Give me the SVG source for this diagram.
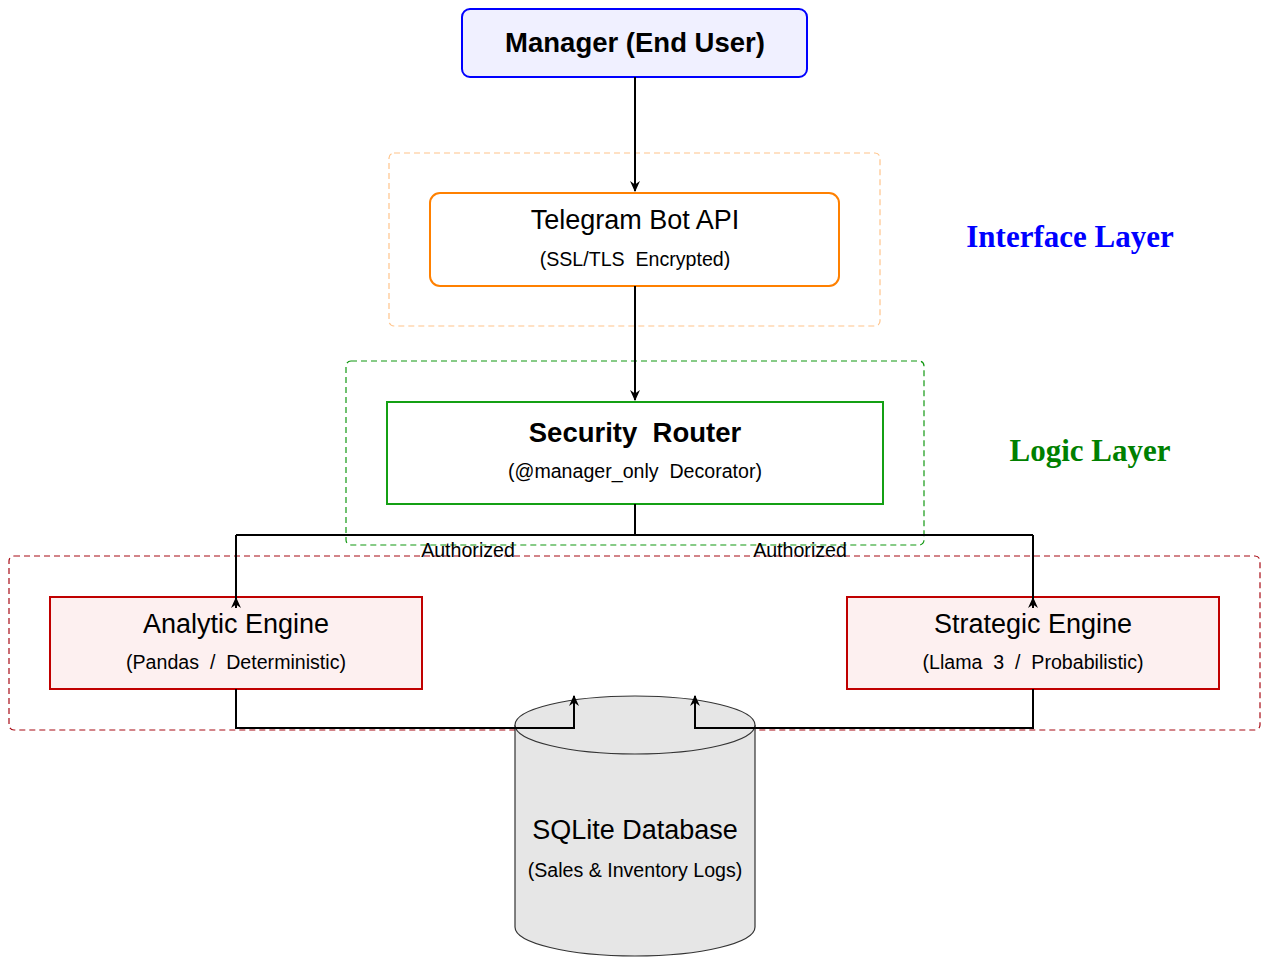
<svg xmlns="http://www.w3.org/2000/svg" width="1269" height="957" viewBox="0 0 1269 957">
<defs>
<style>
.t{font-family:"Liberation Sans",Arial,sans-serif;fill:#000;text-anchor:middle}
.title{font-size:27px}
.bold{font-weight:bold;font-size:27.5px}
.sub{font-size:19.6px}
.lay{font-family:"Liberation Serif","Times New Roman",serif;font-weight:bold;font-size:31px;text-anchor:middle}
.conn{fill:none;stroke:#000;stroke-width:2}
.region{fill:none;stroke-width:1.2;stroke-dasharray:6 4}
</style>
<marker id="ah" viewBox="0 0 10 10" refX="9" refY="5" markerWidth="11" markerHeight="11" markerUnits="userSpaceOnUse" orient="auto">
<path d="M0,0.5 L10,5 L0,9.5 L3,5 Z" fill="#000"/>
</marker>
</defs>
<rect width="1269" height="957" fill="#fff"/>

<g id="regions">
<rect id="interface-region" class="region" x="389" y="153" width="491" height="173" rx="5" stroke="#ffc48a"/>
<rect id="logic-region" class="region" x="346" y="361" width="578" height="184" rx="5" stroke="#119811"/>
<rect id="engine-region" class="region" x="9" y="556" width="1251" height="174" rx="5" stroke="#a80a14"/>
</g>

<g id="layer-labels">
<text class="lay" x="1070" y="247" fill="#0000ff">Interface Layer</text>
<text class="lay" x="1090" y="461" fill="#008000">Logic Layer</text>
</g>

<g id="manager">
<rect x="462" y="9" width="345" height="68" rx="8" fill="#f0f0ff" stroke="#0000ff" stroke-width="2"/>
<text class="t bold" x="635" y="52">Manager (End User)</text>
</g>

<g id="telegram">
<rect x="430" y="193" width="409" height="93" rx="10" fill="#fff" stroke="#ff8000" stroke-width="2"/>
<text class="t title" x="635" y="229">Telegram Bot API</text>
<text class="t sub" x="635" y="266" xml:space="preserve">(SSL/TLS  Encrypted)</text>
</g>

<g id="security-router">
<rect x="387" y="402" width="496" height="102" fill="#fff" stroke="#14a014" stroke-width="2"/>
<text class="t bold" x="635" y="442" xml:space="preserve">Security  Router</text>
<text class="t sub" x="635" y="478" xml:space="preserve">(@manager_only  Decorator)</text>
</g>

<g id="analytic-engine">
<rect x="50" y="597" width="372" height="92" fill="#fdf0f0" stroke="#c00000" stroke-width="2"/>
<text class="t title" x="236" y="633">Analytic Engine</text>
<text class="t sub" x="236" y="669" xml:space="preserve">(Pandas  /  Deterministic)</text>
</g>

<g id="strategic-engine">
<rect x="847" y="597" width="372" height="92" fill="#fdf0f0" stroke="#c00000" stroke-width="2"/>
<text class="t title" x="1033" y="633">Strategic Engine</text>
<text class="t sub" x="1033" y="669" xml:space="preserve">(Llama  3  /  Probabilistic)</text>
</g>

<g id="sqlite-db">
<path d="M515,725 L515,927 A120,29 0 0 0 755,927 L755,725" fill="#e6e6e6" stroke="#333" stroke-width="1.2"/>
<ellipse cx="635" cy="725" rx="120" ry="29" fill="#e6e6e6" stroke="#333" stroke-width="1.2"/>
<text class="t title" x="635" y="839">SQLite Database</text>
<text class="t sub" x="635" y="877">(Sales &amp; Inventory Logs)</text>
</g>

<g id="connectors">
<path class="conn" d="M635,77 L635,191" marker-end="url(#ah)"/>
<path class="conn" d="M635,286 L635,400" marker-end="url(#ah)"/>
<path class="conn" d="M635,504 L635,535 M236,535 L1033,535"/>
<path class="conn" d="M236,535 L236,598"/>
<path class="conn" d="M1033,535 L1033,598"/>
<path class="conn" d="M236,608 L236,598" marker-end="url(#ah)"/>
<path class="conn" d="M1033,608 L1033,598" marker-end="url(#ah)"/>
<path class="conn" d="M236,689 L236,728 L574,728 L574,696" marker-end="url(#ah)"/>
<path class="conn" d="M1033,689 L1033,728 L695,728 L695,696" marker-end="url(#ah)"/>
<text class="t sub" x="468" y="557">Authorized</text>
<text class="t sub" x="800" y="557">Authorized</text>
</g>
</svg>
